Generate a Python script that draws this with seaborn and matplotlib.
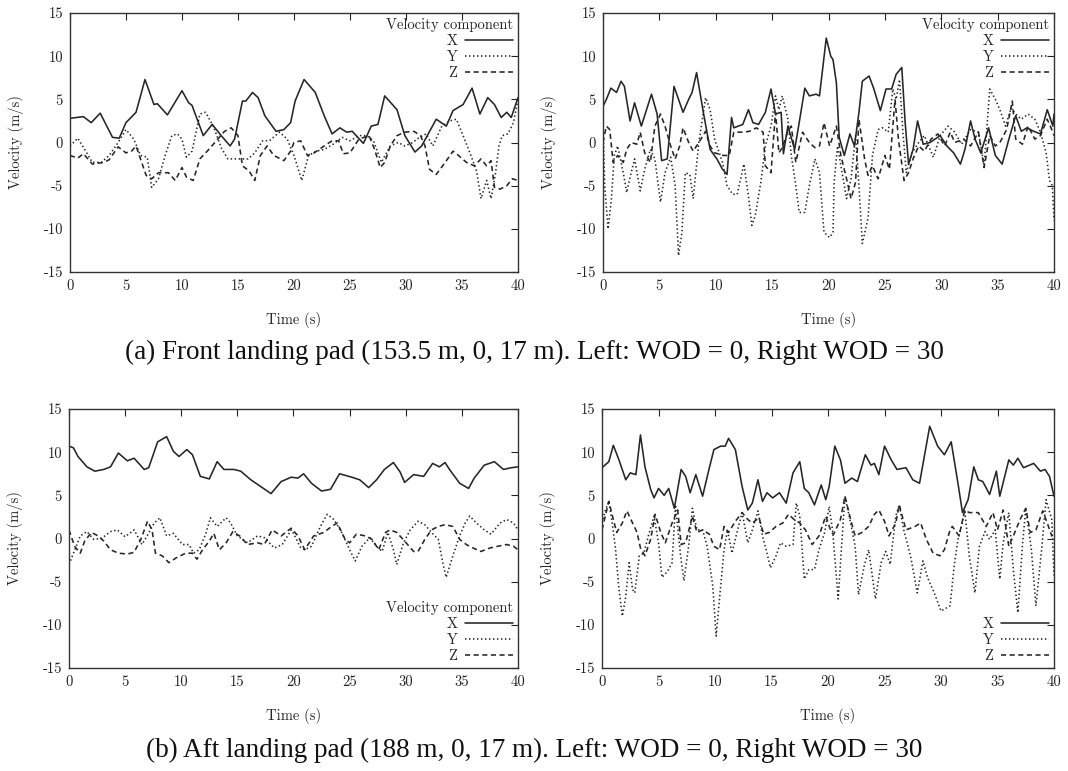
import matplotlib
matplotlib.use("Agg")
import matplotlib.pyplot as plt
import pandas as pd
import seaborn as sns

# (time [s], velocity [m/s])
front_wod0_x = [(0, 2.8), (1.2, 3.0), (1.9, 2.3), (2.7, 3.4), (3.8, 0.6), (4.4, 0.5), (5.0, 2.3), (5.9, 3.5),
                (6.7, 7.3), (7.5, 4.4), (7.8, 4.5), (8.7, 3.2), (10.0, 6.0), (10.6, 4.6), (10.9, 4.3), (11.9, 0.8),
                (12.7, 2.1), (13.5, 0.8), (14.3, -0.4), (14.7, 0.4), (15.4, 4.8), (15.7, 4.8), (16.3, 5.8),
                (16.8, 5.2), (17.4, 3.1), (18.4, 1.3), (19.1, 1.5), (19.7, 2.3), (20.1, 4.8), (20.9, 7.3),
                (21.9, 5.8), (22.7, 3.1), (23.4, 1.0), (24.1, 1.7), (24.7, 1.2), (25.2, 1.3), (26.2, -0.1),
                (26.9, 1.9), (27.5, 2.1), (28.1, 5.4), (29.2, 3.8), (29.9, 0.8), (30.8, -1.1), (31.4, -0.4),
                (32.7, 2.7), (33.6, 1.9), (34.2, 3.7), (35.1, 4.4), (35.9, 6.3), (36.6, 3.3), (37.3, 5.2),
                (37.9, 4.4), (38.5, 2.9), (39.0, 3.5), (39.4, 2.9), (40, 5.2)]
front_wod0_y = [(0, -0.4), (0.7, 0.5), (1.5, -1.2), (2.0, -2.3), (2.8, -2.3), (3.5, -1.5), (4.3, 0.0), (5.0, 1.5),
                (5.7, 0.4), (6.3, -1.5), (6.9, -1.7), (7.3, -5.2), (7.9, -4.2), (8.5, -1.5), (9.1, 0.8), (9.6, 1.0),
                (10.0, 0.4), (10.4, -1.7), (10.9, -1.0), (11.6, 3.3), (12.1, 3.5), (12.8, 1.9), (13.5, -0.6),
                (14.1, -1.9), (15.0, -1.9), (15.9, -1.9), (16.5, -1.2), (17.2, 0.2), (17.8, 0.2), (18.7, 1.2),
                (19.4, 0.4), (20.0, -1.5), (20.7, -4.4), (21.3, -1.5), (22.0, -1.0), (22.7, -0.8), (23.5, -0.2),
                (24.3, 0.6), (25.0, 0.2), (25.8, 0.8), (26.5, 0.8), (27.1, 0.2), (27.8, -2.3), (28.6, -0.4),
                (29.3, 0.0), (29.9, -0.4), (30.6, 0.0), (31.2, 0.6), (31.8, 1.0), (32.4, -0.4), (33.2, 1.9),
                (33.9, 2.5), (34.5, 2.7), (35.1, 0.8), (35.8, -1.5), (36.3, -3.3), (36.7, -6.5), (37.2, -4.4),
                (37.6, -6.5), (38.0, -3.5), (38.3, -0.4), (38.6, 0.8), (39.1, 1.0), (39.6, 2.3), (40, 5.0)]
front_wod0_z = [(0, -1.5), (0.7, -1.8), (1.2, -1.3), (2.0, -2.5), (3.0, -2.3), (3.5, -2.0), (4.3, -0.5),
                (5.0, -1.2), (5.5, -1.0), (5.9, -0.4), (6.8, -3.8), (7.3, -4.2), (7.9, -3.5), (8.8, -3.5),
                (9.4, -4.4), (10.0, -2.9), (10.4, -4.0), (11.0, -4.4), (11.6, -1.9), (12.4, -0.8), (13.2, 0.4),
                (13.8, 1.3), (14.4, 1.7), (15.0, 0.8), (15.4, -2.7), (16.0, -3.3), (16.5, -4.4), (17.0, -1.5),
                (17.6, -0.4), (18.2, -1.5), (19.1, -2.1), (19.7, -1.0), (20.0, 0.0), (20.6, 0.2), (21.2, -1.5),
                (21.8, -1.2), (22.7, -0.4), (23.4, 0.2), (24.0, 0.2), (24.4, -1.3), (25.0, -1.2), (25.8, 0.4),
                (26.7, 0.8), (27.2, -0.8), (27.7, -2.9), (28.1, -2.3), (28.6, -0.4), (29.2, 0.8), (29.9, 1.2),
                (30.7, 1.3), (31.3, 0.8), (31.7, -0.4), (32.1, -3.1), (32.7, -3.7), (33.5, -2.3), (34.2, -1.0),
                (34.6, -1.4), (35.4, -2.3), (36.1, -2.7), (36.7, -1.9), (37.2, -2.7), (37.6, -2.1), (37.9, -5.2),
                (38.4, -5.4), (39.0, -5.0), (39.5, -4.2), (40, -4.4)]

front_wod30_x = [(0, 4.2), (0.3, 5.0), (0.7, 6.3), (1.2, 5.8), (1.6, 7.1), (1.9, 6.5), (2.4, 2.5), (2.8, 4.6),
                 (3.4, 1.9), (4.3, 5.6), (4.8, 3.3), (5.2, -2.1), (5.7, -1.9), (6.3, 6.5), (7.1, 3.5), (7.6, 5.0),
                 (7.9, 5.8), (8.3, 8.1), (8.9, 3.5), (9.5, -0.8), (10.1, -1.9), (10.6, -3.1), (11.0, -3.7),
                 (11.4, 2.9), (11.6, 1.7), (12.4, 2.1), (12.9, 3.8), (13.3, 2.3), (13.8, 2.1), (14.4, 3.5),
                 (14.9, 6.2), (15.3, 3.3), (15.8, 3.5), (16.0, -1.3), (16.4, 1.9), (17.0, -0.8), (17.4, 2.3),
                 (17.9, 6.3), (18.3, 5.4), (18.9, 5.6), (19.2, 5.4), (19.8, 12.1), (20.2, 10.0), (20.4, 9.6),
                 (20.7, 6.9), (20.95, 0.6), (21.4, -1.5), (21.9, 1.0), (22.3, -0.4), (22.7, 3.5), (23.0, 7.1),
                 (23.6, 7.7), (24.0, 6.3), (24.6, 3.7), (25.1, 6.2), (25.6, 6.2), (26.0, 7.9), (26.5, 8.7),
                 (26.8, 2.3), (27.1, -2.5), (27.5, -0.8), (27.9, 2.5), (28.4, -0.2), (29.0, 0.0), (29.9, 0.8),
                 (30.5, -0.4), (31.1, -1.2), (31.7, -2.5), (32.1, -0.8), (32.6, 2.5), (33.0, 0.4), (33.5, -1.2),
                 (34.2, 1.7), (34.8, -1.5), (35.4, -2.5), (36.0, 0.4), (36.6, 3.1), (37.1, 1.3), (37.6, 1.7),
                 (38.2, 1.3), (38.8, 1.0), (39.4, 3.8), (39.9, 1.9), (40, 3.3)]
front_wod30_y = [(0, 2.3), (0.15, -5.0), (0.45, -10.0), (0.75, -6.5), (1.0, -1.5), (1.3, -0.4), (1.8, -3.5),
                 (2.1, -5.8), (2.5, -3.5), (2.8, -1.9), (3.3, -5.6), (3.7, -3.1), (4.2, -0.8), (4.6, -1.9),
                 (5.1, -6.9), (5.5, -3.5), (6.0, -1.7), (6.4, -5.0), (6.7, -13.1), (7.0, -10.4), (7.3, -3.5),
                 (7.7, -3.7), (8.0, -6.5), (8.5, 0.0), (9.1, 5.2), (9.5, 3.8), (9.9, 0.4), (10.6, -2.3),
                 (11.0, -5.0), (11.5, -6.0), (11.9, -6.0), (12.5, -2.5), (12.9, -6.2), (13.2, -9.6), (13.5, -8.5),
                 (14.0, -4.6), (14.4, -0.4), (14.9, 1.9), (15.3, 5.4), (15.6, 3.8), (15.9, 5.4), (16.4, 2.7),
                 (16.7, -1.5), (17.1, -5.0), (17.4, -8.1), (17.9, -8.1), (18.3, -5.0), (18.8, -1.9), (19.2, -3.5),
                 (19.6, -10.4), (20.1, -11.0), (20.4, -10.4), (20.5, -4.6), (20.8, -0.4), (21.3, -4.2),
                 (21.6, -6.5), (22.0, -4.2), (22.4, 0.8), (22.7, -5.0), (23.0, -11.7), (23.5, -8.8), (23.9, -1.5),
                 (24.4, 1.5), (24.8, 1.7), (25.3, 1.2), (25.7, 6.2), (26.0, 5.0), (26.3, 7.3), (26.6, 1.2),
                 (26.9, -3.5), (27.4, -1.2), (28.0, 0.0), (28.5, 0.8), (29.3, -1.7), (29.9, 0.8), (30.6, 1.9),
                 (31.2, 1.2), (31.8, -0.2), (32.6, 1.5), (33.3, 1.2), (33.8, -2.7), (34.3, 6.2), (34.8, 5.0),
                 (35.2, 3.8), (35.7, 1.9), (36.2, 4.0), (36.6, 3.3), (37.1, 2.7), (37.7, 3.3), (38.3, 2.7),
                 (38.8, 1.2), (39.3, -1.2), (39.6, -4.4), (39.85, -5.0), (40, -9.0)]
front_wod30_z = [(0, 0.0), (0.3, 1.9), (0.6, 1.5), (0.9, -2.3), (1.3, -1.5), (1.8, -2.3), (2.1, -0.8), (2.5, 0.0),
                 (3.0, -0.2), (3.3, 1.2), (3.7, -1.2), (4.2, -2.3), (4.6, 1.9), (5.1, 3.3), (5.5, 1.9), (6.0, -0.4),
                 (6.4, -1.9), (6.8, -0.4), (7.1, 1.7), (7.6, 0.0), (8.0, -1.0), (8.5, 0.0), (9.1, 1.3), (9.5, -0.4),
                 (9.9, -1.2), (10.7, -1.5), (11.2, -1.5), (11.6, 1.2), (12.4, 1.2), (13.0, 1.3), (13.6, 1.7),
                 (14.2, 1.2), (14.4, -2.7), (14.9, -3.5), (15.3, 3.5), (15.6, -1.2), (15.9, -0.6), (16.4, 1.3),
                 (16.7, 1.9), (17.1, -2.3), (17.7, 1.2), (18.3, 0.0), (18.8, -0.6), (19.2, -0.4), (19.6, 2.3),
                 (20.1, -0.4), (20.7, 1.9), (21.1, -1.5), (21.6, -4.2), (22.0, -6.5), (22.4, -4.6), (22.7, 2.7),
                 (23.2, -1.9), (23.5, -3.8), (23.9, -2.7), (24.4, -4.2), (25.0, -1.5), (25.4, -3.1), (25.9, 5.0),
                 (26.2, 0.4), (26.7, -4.4), (27.1, -3.5), (27.5, -1.9), (28.0, -0.4), (28.5, -1.0), (29.1, 0.4),
                 (29.7, 1.0), (30.3, -0.4), (30.8, 1.2), (31.2, 0.0), (32.0, 0.4), (32.6, -0.4), (33.3, 1.2),
                 (33.8, -2.9), (34.3, 0.8), (34.8, -0.4), (35.2, 0.0), (35.8, 1.5), (36.3, 4.8), (36.6, 0.4),
                 (37.2, -0.2), (37.7, 1.9), (38.3, 0.4), (38.8, 0.8), (39.4, 2.7), (39.9, 1.2), (40, 0.8)]

aft_wod0_x = [(0, 10.7), (0.4, 10.5), (0.8, 9.5), (1.6, 8.3), (2.3, 7.8), (3.1, 8.0), (3.7, 8.3), (4.4, 9.9),
              (5.2, 9.0), (5.8, 9.3), (6.7, 8.0), (7.1, 8.2), (7.9, 11.2), (8.7, 11.8), (9.3, 10.1), (9.8, 9.5),
              (10.5, 10.3), (11.0, 9.7), (11.7, 7.2), (12.5, 6.9), (13.2, 8.9), (13.8, 8.0), (14.7, 8.0),
              (15.3, 7.8), (16.2, 6.8), (17.1, 6.0), (18.0, 5.2), (18.9, 6.6), (19.8, 7.1), (20.4, 7.0),
              (20.9, 7.5), (21.6, 6.4), (22.5, 5.5), (23.3, 5.7), (24.1, 7.5), (25.2, 7.1), (25.9, 6.8),
              (26.7, 5.9), (27.4, 6.8), (28.1, 8.0), (28.9, 8.8), (29.5, 7.7), (29.9, 6.5), (30.7, 7.4),
              (31.6, 7.2), (32.4, 8.7), (33.0, 8.3), (33.5, 8.8), (33.9, 8.0), (34.8, 6.4), (35.6, 5.8),
              (36.1, 7.0), (37.0, 8.5), (37.9, 8.9), (38.7, 8.0), (39.4, 8.2), (40, 8.3)]
aft_wod0_y = [(0, -3.0), (0.4, -1.7), (1.0, 0.3), (1.6, 0.8), (2.2, -0.1), (2.9, 0.0), (3.7, 0.8), (4.3, 1.0),
              (5.0, 0.2), (5.8, 1.0), (6.5, -0.7), (7.0, 0.4), (7.6, 1.8), (8.1, 2.4), (8.7, 0.3), (9.3, 0.6),
              (10.1, -0.7), (10.7, -0.7), (11.1, -1.7), (11.6, -1.3), (12.2, 0.6), (12.6, 2.4), (13.2, 1.4),
              (14.0, 2.4), (14.4, 1.8), (15.0, 0.3), (15.9, -0.5), (16.8, 0.3), (17.4, 0.1), (18.3, -1.1),
              (19.0, -0.7), (19.8, 1.0), (20.0, 0.6), (20.6, -1.0), (21.0, -1.3), (21.6, -0.9), (22.4, 1.4),
              (23.0, 2.8), (23.6, 2.2), (24.3, 0.7), (25.0, -1.3), (25.5, -2.6), (26.1, -0.9), (26.8, 0.1),
              (27.4, -0.9), (27.9, -1.5), (28.4, 0.7), (28.9, -1.3), (29.2, -3.0), (29.8, -0.5), (30.4, 1.0),
              (31.1, 2.0), (31.7, 1.6), (32.3, 0.7), (32.9, -0.1), (33.3, -2.8), (33.6, -4.5), (34.2, -2.0),
              (34.8, 0.3), (35.3, 1.8), (35.7, 2.6), (36.3, 1.8), (37.0, 1.0), (37.6, 0.5), (38.4, 1.8),
              (39.0, 2.2), (39.6, 1.8), (40, 1.0)]
aft_wod0_z = [(0, 1.0), (0.5, -0.9), (1.0, -1.7), (1.4, -0.3), (2.0, 0.7), (2.6, 0.3), (3.1, -0.3), (3.7, -1.3),
              (4.4, -1.7), (5.2, -1.8), (5.8, -1.6), (6.4, -0.1), (7.0, 2.0), (7.4, 1.0), (7.7, -1.7), (8.3, -2.0),
              (8.9, -2.8), (9.6, -2.2), (10.4, -1.7), (11.0, -1.7), (11.4, -2.4), (11.9, -1.3), (12.5, -0.3),
              (12.9, 0.6), (13.4, -1.3), (14.0, -0.5), (14.6, 0.8), (15.2, 0.3), (15.9, -0.7), (16.8, -0.5),
              (17.4, -0.7), (18.1, 1.0), (18.9, 0.3), (19.8, 1.2), (20.4, 0.3), (21.0, -1.3), (21.8, 0.3),
              (22.7, 0.7), (23.4, 1.4), (23.9, 1.8), (24.6, -0.1), (25.0, -0.5), (25.6, 0.5), (26.4, 0.3),
              (27.0, -0.1), (27.6, -1.3), (28.2, 0.7), (28.6, 1.0), (29.2, 0.7), (29.9, -0.3), (30.7, -1.5),
              (31.1, -1.5), (31.7, -0.1), (32.3, 1.0), (32.9, 1.4), (33.5, 1.6), (34.2, 1.4), (34.8, -0.1),
              (35.4, -0.7), (36.0, -1.1), (36.7, -1.5), (37.5, -1.1), (38.2, -0.9), (39.0, -0.7), (39.6, -0.9),
              (40, -1.3)]

aft_wod30_x = [(0, 8.2), (0.6, 8.9), (1.0, 10.8), (1.5, 9.1), (2.1, 6.8), (2.5, 7.6), (3.0, 7.4), (3.4, 12.0),
               (3.8, 8.3), (4.3, 5.7), (4.6, 4.7), (5.0, 5.8), (5.5, 5.0), (5.9, 5.8), (6.4, 3.5), (7.0, 8.0),
               (7.4, 7.2), (7.8, 5.3), (8.3, 7.4), (8.9, 4.9), (9.5, 8.2), (9.9, 10.3), (10.5, 10.7), (10.9, 10.7),
               (11.2, 11.6), (11.8, 10.3), (12.4, 6.0), (12.9, 3.3), (13.3, 4.1), (13.8, 6.8), (14.2, 4.3),
               (14.6, 5.3), (15.1, 4.7), (15.7, 5.3), (16.3, 4.1), (16.9, 7.6), (17.5, 8.9), (17.9, 5.8),
               (18.3, 5.3), (18.8, 3.9), (19.4, 6.2), (19.8, 4.5), (20.1, 6.0), (20.6, 10.7), (21.1, 9.1),
               (21.5, 6.4), (22.1, 7.0), (22.6, 6.6), (23.3, 9.7), (23.8, 8.5), (24.1, 8.7), (24.5, 7.4),
               (25.0, 10.7), (25.6, 9.1), (26.1, 8.0), (26.9, 8.2), (27.5, 6.8), (28.1, 6.4), (29.0, 13.0),
               (29.7, 10.7), (30.3, 9.7), (30.9, 11.2), (31.5, 6.4), (31.9, 3.0), (32.4, 4.5), (32.9, 8.3),
               (33.3, 6.8), (33.7, 6.6), (34.3, 5.1), (34.9, 7.8), (35.2, 4.9), (36.0, 9.1), (36.4, 8.5),
               (36.8, 9.3), (37.3, 8.2), (38.2, 8.7), (38.8, 7.8), (39.2, 8.0), (39.6, 7.2), (40, 4.9)]
aft_wod30_y = [(0, 1.8), (0.3, 3.3), (0.6, 4.3), (0.9, 1.8), (1.2, -1.3), (1.5, -5.9), (1.8, -9.0), (2.1, -6.7),
               (2.4, -2.8), (2.7, -5.9), (2.9, -6.3), (3.3, -2.0), (3.7, -1.7), (4.1, 0.3), (4.6, 2.6), (5.0, -0.5),
               (5.3, -4.5), (5.8, -3.8), (6.2, -2.8), (6.5, 3.9), (6.95, -2.0), (7.25, -4.9), (7.7, -0.5),
               (8.0, 3.5), (8.4, 1.0), (8.9, 1.0), (9.3, -0.9), (9.8, -5.5), (10.1, -11.3), (10.5, -5.5),
               (10.8, -1.3), (11.1, 1.0), (11.5, -1.7), (12.0, 1.0), (12.4, 3.0), (12.9, -0.5), (13.3, 1.0),
               (13.8, 3.2), (14.2, 0.3), (14.6, -1.7), (14.9, -3.4), (15.4, -2.0), (15.8, -0.5), (16.3, -0.9),
               (16.9, -0.7), (17.2, 4.1), (17.5, 2.6), (17.9, -4.7), (18.3, -3.6), (18.8, -3.6), (19.2, -1.3),
               (19.7, 0.7), (20.1, 3.7), (20.4, 1.0), (20.9, -7.0), (21.2, -0.9), (21.5, 4.9), (22.0, 1.8),
               (22.4, -0.9), (22.7, -6.5), (23.2, -3.2), (23.6, -1.3), (24.2, -7.0), (24.7, -2.8), (25.1, -1.5),
               (25.5, -3.0), (26.0, 2.6), (26.3, 3.9), (26.7, 1.0), (27.3, -2.0), (27.9, -6.3), (28.4, -2.6),
               (28.8, -4.5), (29.4, -6.3), (30.0, -8.4), (30.8, -7.8), (31.2, -2.8), (31.5, -0.1), (31.8, 1.4),
               (32.1, 3.3), (32.5, -2.0), (33.0, -6.3), (33.4, -0.9), (33.9, 0.8), (34.3, -0.1), (34.8, 1.0),
               (35.2, -4.7), (35.5, -0.5), (36.0, 3.0), (36.4, -3.6), (36.8, -8.6), (37.2, -0.9), (37.5, 3.5),
               (38.0, -1.3), (38.4, -7.8), (38.9, -1.3), (39.3, 4.5), (39.8, 2.2), (40, -4.3)]
aft_wod30_z = [(0, 1.0), (0.6, 4.3), (1.0, 2.2), (1.3, 0.7), (1.8, 1.8), (2.2, 3.2), (2.7, 1.8), (3.1, 0.7),
               (3.4, -1.1), (3.8, -2.0), (4.3, -0.1), (4.7, 2.8), (5.2, 0.7), (5.6, -0.5), (6.2, 1.8), (6.7, 3.3),
               (7.0, -0.7), (7.4, -0.5), (8.0, 2.6), (8.4, 0.7), (8.9, 1.0), (9.5, 0.5), (9.9, -0.9), (10.4, -1.3),
               (10.8, 1.4), (11.2, 0.7), (11.8, 2.0), (12.4, 3.0), (12.9, 2.2), (13.3, 1.8), (13.9, 2.4),
               (14.3, 0.5), (14.8, 0.7), (15.4, 1.4), (16.0, 1.8), (16.5, 2.8), (17.0, 2.2), (17.5, 1.8),
               (18.0, 1.0), (18.6, -0.7), (19.2, 0.3), (19.8, 2.6), (20.3, 0.7), (20.5, 0.5), (21.1, 2.2),
               (21.5, 4.9), (22.0, 2.2), (22.4, 0.3), (23.0, 0.7), (23.6, 1.4), (24.1, 2.8), (24.5, 3.3),
               (25.0, 2.0), (25.4, 0.3), (26.0, 1.8), (26.3, 3.9), (26.9, 1.0), (27.7, 1.4), (28.2, 1.8),
               (28.7, -0.1), (29.3, -1.7), (29.9, -2.0), (30.3, -1.3), (30.8, 1.0), (31.0, 1.4), (31.6, 0.3),
               (32.1, 3.3), (32.5, 3.0), (33.3, 3.0), (34.0, 1.4), (34.6, 3.0), (35.0, 1.0), (35.5, 3.3),
               (36.0, -0.9), (36.4, 0.3), (37.0, 2.2), (37.5, 3.5), (37.9, 0.7), (38.4, 1.0), (39.0, 3.2),
               (39.4, 1.8), (39.8, 0.3), (40, 0.7)]

components = ["X", "Y", "Z"]
x_ticks = [0, 5, 10, 15, 20, 25, 30, 35, 40]
y_ticks = [-15, -10, -5, 0, 5, 10, 15]
caption_a = "(a) Front landing pad (153.5 m, 0, 17 m). Left: WOD = 0, Right WOD = 30"
caption_b = "(b) Aft landing pad (188 m, 0, 17 m). Left: WOD = 0, Right WOD = 30"

sns.set_style("white")
plt.rcParams["font.family"] = ["cmr10", "DejaVu Serif"]
plt.rcParams["axes.unicode_minus"] = False
plt.rcParams["mathtext.fontset"] = "cm"

LINE_COLOR = "#262626"


def to_frame(x_data, y_data, z_data):
    """
    stacks the three velocity components into one long table

    Returns:
        df: pd.DataFrame with time, velocity, component
    """
    frames = []
    for comp, data in zip(components, [x_data, y_data, z_data]):
        df = pd.DataFrame(data, columns=["time", "velocity"])
        df["component"] = comp
        frames.append(df)
    return pd.concat(frames, ignore_index=True)


def draw_panel(ax, df, legend_loc, legend_title):
    """
    draws one velocity panel in gnuplot style
    """
    sns.lineplot(data=df, x="time", y="velocity", hue="component", style="component",
                 palette={c: LINE_COLOR for c in components},
                 dashes={"X": "", "Y": (0.9, 1.6), "Z": (3.2, 2.2)},
                 estimator=None, sort=False, linewidth=1.15, ax=ax)

    ax.set_xlim(0, 40)
    ax.set_ylim(-15, 15)
    ax.set_xticks(x_ticks)
    ax.set_yticks(y_ticks)
    ax.set_xlabel("Time (s)", fontsize=10.5, labelpad=14)
    ax.set_ylabel("Velocity (m/s)", fontsize=10.5, labelpad=14)
    ax.tick_params(direction="in", length=5, width=0.8, top=True, right=True,
                   labelsize=10.5, pad=5, colors="#222222")
    for spine in ax.spines.values():
        spine.set_color("#333333")
        spine.set_linewidth(1.0)

    sns.move_legend(ax, legend_loc, title=legend_title, markerfirst=False, frameon=False,
                    fontsize=10.5, title_fontsize=10.5, handlelength=3.3, handletextpad=0.5,
                    labelspacing=0.15, borderaxespad=0.2, borderpad=0.15)
    leg = ax.get_legend()
    leg._legend_box.align = "right"
    for line in leg.get_lines():
        line.set_linewidth(1.15)


fig = plt.figure(figsize=(10.68, 7.71), dpi=100)
ax_a0 = fig.add_axes([0.0655, 0.6472, 0.4195, 0.3359])
ax_a30 = fig.add_axes([0.5646, 0.6472, 0.4223, 0.3359])
ax_b0 = fig.add_axes([0.0646, 0.1336, 0.4204, 0.3359])
ax_b30 = fig.add_axes([0.5637, 0.1336, 0.4232, 0.3359])

draw_panel(ax_a0, to_frame(front_wod0_x, front_wod0_y, front_wod0_z), "upper right", "Velocity component")
draw_panel(ax_a30, to_frame(front_wod30_x, front_wod30_y, front_wod30_z), "upper right", "Velocity component")
draw_panel(ax_b0, to_frame(aft_wod0_x, aft_wod0_y, aft_wod0_z), "lower right", "Velocity component")
draw_panel(ax_b30, to_frame(aft_wod30_x, aft_wod30_y, aft_wod30_z), "lower right", None)

fig.text(0.5, 0.543, caption_a, ha="center", va="center", fontsize=19.5,
         family=["Liberation Serif", "DejaVu Serif"], color="#111111")
fig.text(0.5, 0.027, caption_b, ha="center", va="center", fontsize=19.5,
         family=["Liberation Serif", "DejaVu Serif"], color="#111111")

fig.savefig("out.png", dpi=100, facecolor="white")
